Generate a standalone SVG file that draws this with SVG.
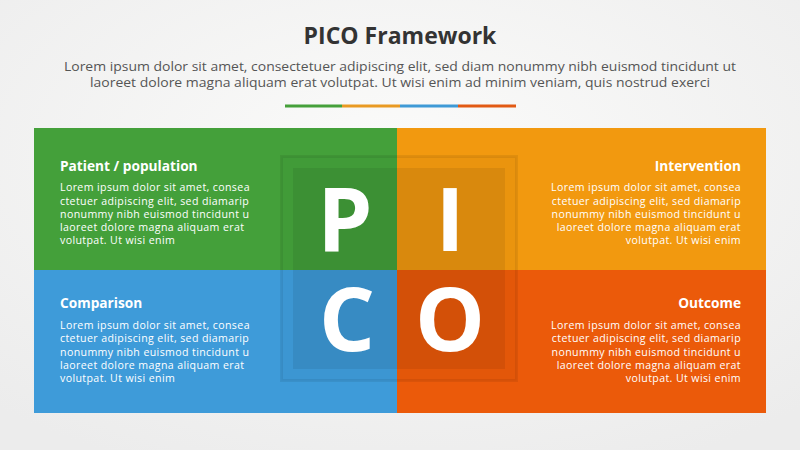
<svg xmlns="http://www.w3.org/2000/svg" width="800" height="450" viewBox="0 0 800 450">
  <defs>
    <radialGradient id="bg" cx="50%" cy="35%" r="75%">
      <stop offset="0" stop-color="#fbfbfa"/>
      <stop offset="1" stop-color="#ececec"/>
    </radialGradient>
    <style>
      .title{font-family:"Open Sans","Liberation Sans",sans-serif;font-weight:700;font-size:23px;fill:#333333;text-anchor:middle}
      .sub{font-family:"Open Sans","Liberation Sans",sans-serif;font-size:12.5px;fill:#555555;text-anchor:middle}
      .head{font-family:"Open Sans","Liberation Sans",sans-serif;font-weight:700;font-size:13.7px;fill:#ffffff}
      .body{font-family:"Open Sans","Liberation Sans",sans-serif;font-size:10.6px;letter-spacing:0.38px;fill:#ffffff}
      .r{text-anchor:end}
      .big{font-family:"Open Sans","Liberation Sans",sans-serif;font-weight:700;font-size:88px;fill:#ffffff;text-anchor:middle}
    </style>
  </defs>
  <rect x="0" y="0" width="800" height="450" fill="url(#bg)"/>

  <g id="header">
    <text class="title" x="400" y="44">PICO Framework</text>
    <text class="sub" x="400" y="71" textLength="672" lengthAdjust="spacingAndGlyphs">Lorem ipsum dolor sit amet, consectetuer adipiscing elit, sed diam nonummy nibh euismod tincidunt ut</text>
    <text class="sub" x="400" y="87" textLength="620" lengthAdjust="spacingAndGlyphs">laoreet dolore magna aliquam erat volutpat. Ut wisi enim ad minim veniam, quis nostrud exerci</text>
    <rect x="285" y="104.5" width="57" height="3" fill="#45a03a"/>
    <rect x="342" y="104.5" width="58" height="3" fill="#e99a22"/>
    <rect x="400" y="104.5" width="58" height="3" fill="#3f9ad6"/>
    <rect x="458" y="104.5" width="58" height="3" fill="#e25a14"/>
  </g>

  <g id="patient">
    <rect x="34" y="128" width="363" height="142" fill="#44a03a"/>
    <text class="head" x="60" y="171">Patient / population</text>
    <text class="body" x="60" y="191">Lorem ipsum dolor sit amet, consea</text>
    <text class="body" x="60" y="205">ctetuer adipiscing elit, sed diamarip</text>
    <text class="body" x="60" y="218">nonummy nibh euismod tincidunt u</text>
    <text class="body" x="60" y="231">laoreet dolore magna aliquam erat</text>
    <text class="body" x="60" y="244">volutpat. Ut wisi enim</text>
  </g>

  <g id="intervention">
    <rect x="397" y="128" width="369" height="142" fill="#f2990f"/>
    <text class="head r" x="741" y="171">Intervention</text>
    <text class="body r" x="741" y="191">Lorem ipsum dolor sit amet, consea</text>
    <text class="body r" x="741" y="205">ctetuer adipiscing elit, sed diamarip</text>
    <text class="body r" x="741" y="218">nonummy nibh euismod tincidunt u</text>
    <text class="body r" x="741" y="231">laoreet dolore magna aliquam erat</text>
    <text class="body r" x="741" y="244">volutpat. Ut wisi enim</text>
  </g>

  <g id="comparison">
    <rect x="34" y="270" width="363" height="143" fill="#3e9bd9"/>
    <text class="head" x="60" y="308">Comparison</text>
    <text class="body" x="60" y="329">Lorem ipsum dolor sit amet, consea</text>
    <text class="body" x="60" y="342">ctetuer adipiscing elit, sed diamarip</text>
    <text class="body" x="60" y="356">nonummy nibh euismod tincidunt u</text>
    <text class="body" x="60" y="369">laoreet dolore magna aliquam erat</text>
    <text class="body" x="60" y="382">volutpat. Ut wisi enim</text>
  </g>

  <g id="outcome">
    <rect x="397" y="270" width="369" height="143" fill="#eb5a0a"/>
    <text class="head r" x="741" y="308">Outcome</text>
    <text class="body r" x="741" y="329">Lorem ipsum dolor sit amet, consea</text>
    <text class="body r" x="741" y="342">ctetuer adipiscing elit, sed diamarip</text>
    <text class="body r" x="741" y="356">nonummy nibh euismod tincidunt u</text>
    <text class="body r" x="741" y="369">laoreet dolore magna aliquam erat</text>
    <text class="body r" x="741" y="382">volutpat. Ut wisi enim</text>
  </g>

  <g id="pico-center">
    <rect x="281.5" y="156.5" width="235" height="224" fill="#000000" fill-opacity="0.03" stroke="#000000" stroke-opacity="0.07" stroke-width="3"/>
    <rect x="293" y="168" width="212" height="201" fill="#000000" fill-opacity="0.07"/>
    <text class="big" x="345" y="251">P</text>
    <text class="big" x="450" y="251">I</text>
    <text class="big" x="347" y="351">C</text>
    <text class="big" x="450" y="351">O</text>
  </g>
</svg>
